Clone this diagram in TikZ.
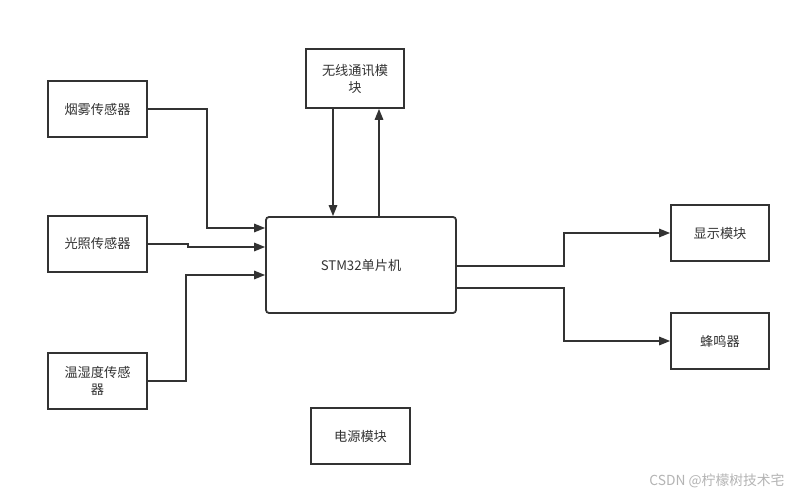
\documentclass[tikz,border=0pt]{standalone}
\usepackage{fontspec}
\newfontfamily\cjk{Noto Sans CJK SC}
\usetikzlibrary{arrows.meta}
\definecolor{ink}{HTML}{333333}
\definecolor{wm}{HTML}{B4B4B4}
\tikzset{
  blk/.style={draw=ink, line width=1.8pt, minimum width=99pt, minimum height=56pt, inner sep=2pt,
    font=\cjk\fontsize{13.2}{17}\selectfont, text=ink, align=center},
  arr/.style={draw=ink, line width=1.6pt, -{Triangle[length=11pt,width=8.5pt]}}
}
\begin{document}
\begin{tikzpicture}[x=1pt,y=-1pt]
\useasboundingbox (0,0) rectangle (802,497);
\fill[white] (0,0) rectangle (802,497);
\node[blk] (smoke) at (97.5,109) {烟雾传感器};
\node[blk] (light) at (97.5,244) {光照传感器};
\node[blk] (humid) at (97.5,381) {温湿度传感\\器};
\node[blk, minimum width=98pt, minimum height=59pt] (wireless) at (355,78.5) {无线通讯模\\块};
\node[blk, minimum width=190pt, minimum height=96pt, rounded corners=3pt] (stm) at (361,265) {STM32单片机};
\node[blk, minimum width=98pt] (display) at (720,233) {显示模块};
\node[blk, minimum width=98pt] (buzzer) at (720,341) {蜂鸣器};
\node[blk] (power) at (360.5,436) {电源模块};
\node[font=\cjk\fontsize{13.8}{16}\selectfont, text=wm, inner sep=0pt] (wmark) at (717,481) {CSDN @柠檬树技术宅};

\draw[arr] (smoke.east) -- ++(59,0) |- ([yshift=37pt]stm.west);
\draw[arr] (light.east) -- ++(40,0) |- ([yshift=18pt]stm.west);
\draw[arr] (humid.east) -- ++(38,0) |- ([yshift=-10pt]stm.west);
\draw[arr] ([xshift=-22pt]wireless.south) -- ([xshift=-22pt]wireless.south |- stm.north);
\draw[arr] ([xshift=24pt]wireless.south |- stm.north) -- ([xshift=24pt]wireless.south);
\draw[arr] ([yshift=-1pt]stm.east) -- ++(107,0) |- (display.west);
\draw[arr] ([yshift=-23pt]stm.east) -- ++(107,0) |- (buzzer.west);
\end{tikzpicture}
\end{document}
